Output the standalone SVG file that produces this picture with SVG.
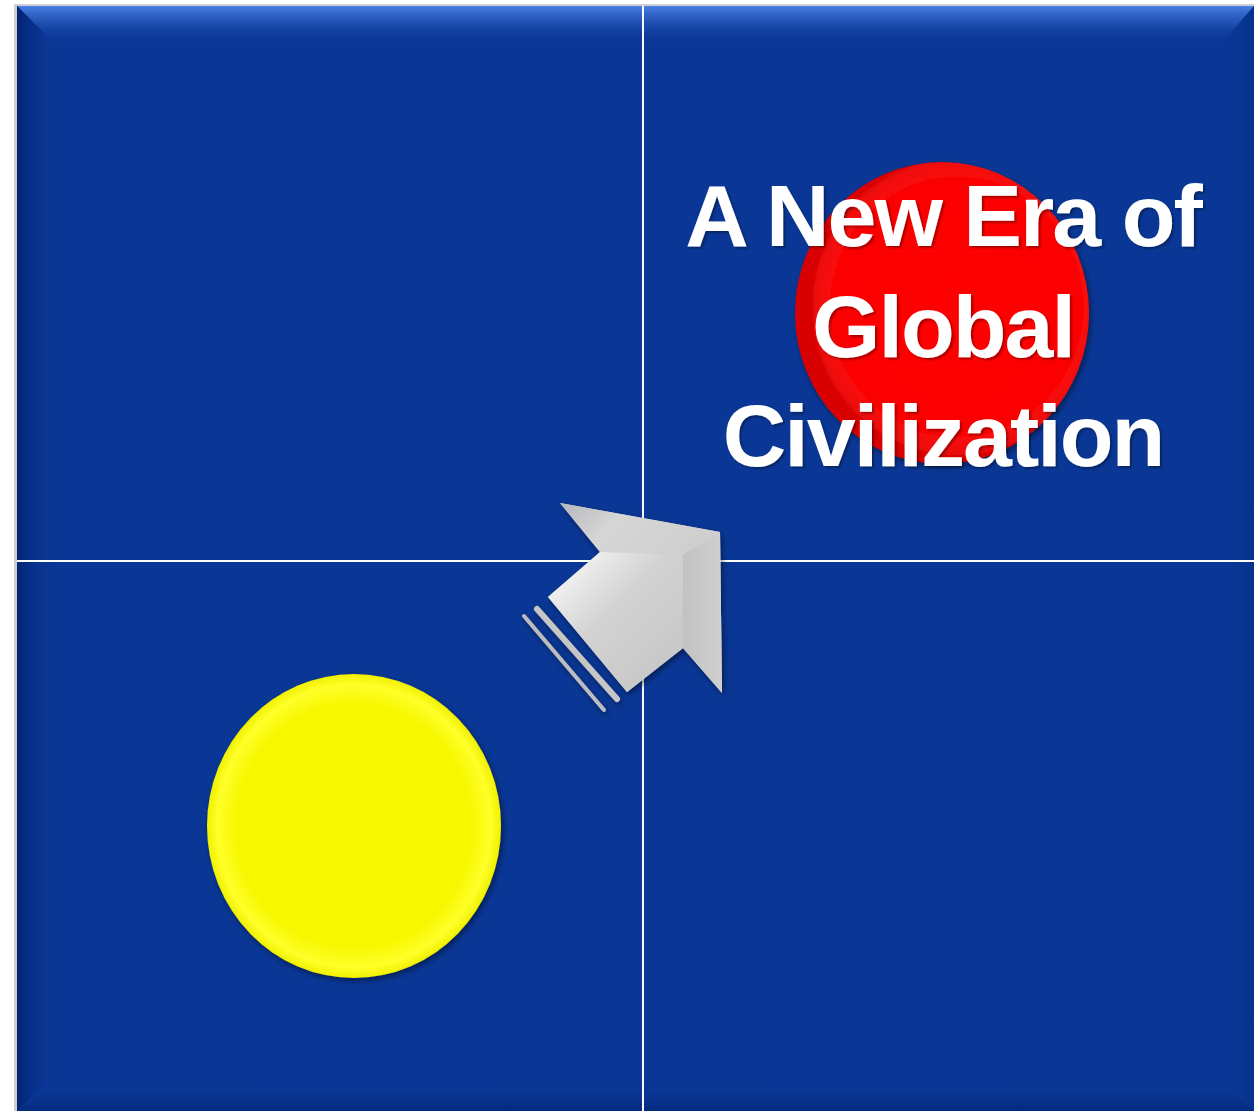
<svg xmlns="http://www.w3.org/2000/svg" width="1254" height="1111" viewBox="0 0 1254 1111">
  <defs>
    <style>
      .grid { stroke: #ffffff; stroke-width: 2; }
      .label { font-family: "Liberation Sans", Arial, sans-serif; font-weight: bold; font-size: 88px; fill: #ffffff; text-anchor: middle; letter-spacing: -2px; }
    </style>
    <linearGradient id="bevTop" x1="0" y1="0" x2="0" y2="1">
      <stop offset="0" stop-color="#4a80e6" stop-opacity="1"/>
      <stop offset="1" stop-color="#0a3796" stop-opacity="0"/>
    </linearGradient>
    <linearGradient id="bevLeft" x1="0" y1="0" x2="1" y2="0">
      <stop offset="0" stop-color="#03226e" stop-opacity="0.9"/>
      <stop offset="1" stop-color="#0a3796" stop-opacity="0"/>
    </linearGradient>
    <linearGradient id="bevBottom" x1="0" y1="1" x2="0" y2="0">
      <stop offset="0" stop-color="#03287a" stop-opacity="0.9"/>
      <stop offset="1" stop-color="#0a3796" stop-opacity="0"/>
    </linearGradient>
    <linearGradient id="bevRight" x1="1" y1="0" x2="0" y2="0">
      <stop offset="0" stop-color="#05308a" stop-opacity="0.8"/>
      <stop offset="1" stop-color="#0a3796" stop-opacity="0"/>
    </linearGradient>
    <radialGradient id="yellowFill" cx="0.5" cy="0.5" r="0.5">
      <stop offset="0" stop-color="#f8f800"/>
      <stop offset="0.8" stop-color="#f7f700"/>
      <stop offset="0.93" stop-color="#ffff2a"/>
      <stop offset="1" stop-color="#f0f000"/>
    </radialGradient>
    <radialGradient id="redFill" cx="0.55" cy="0.48" r="0.5">
      <stop offset="0" stop-color="#ff0606"/>
      <stop offset="0.85" stop-color="#fb0505"/>
      <stop offset="0.95" stop-color="#f01010"/>
      <stop offset="1" stop-color="#d80000"/>
    </radialGradient>
    <linearGradient id="shaftFace" x1="0" y1="0" x2="1" y2="1">
      <stop offset="0" stop-color="#ffffff"/>
      <stop offset="0.45" stop-color="#d2d2d2"/>
      <stop offset="1" stop-color="#c4c4c4"/>
    </linearGradient>
    <linearGradient id="headTop" x1="0" y1="0" x2="1" y2="0.3">
      <stop offset="0" stop-color="#b4b6bc"/>
      <stop offset="0.4" stop-color="#d6d6d6"/>
      <stop offset="1" stop-color="#cfcfcf"/>
    </linearGradient>
    <linearGradient id="headRight" x1="0" y1="0" x2="1" y2="0">
      <stop offset="0" stop-color="#c2c2c2"/>
      <stop offset="1" stop-color="#d0d0d0"/>
    </linearGradient>
    <filter id="shadow" x="-20%" y="-20%" width="140%" height="140%">
      <feDropShadow dx="2" dy="3" stdDeviation="3" flood-color="#000000" flood-opacity="0.45"/>
    </filter>
    <filter id="textShadow" x="-10%" y="-20%" width="120%" height="140%">
      <feDropShadow dx="2" dy="2" stdDeviation="1.2" flood-color="#000000" flood-opacity="0.35"/>
    </filter>
  </defs>

  <rect x="0" y="0" width="1254" height="1111" fill="#ffffff"/>

  <g id="background">
    <rect x="14" y="4" width="1240" height="1107" fill="#9aa0aa" opacity="0.5"/>
    <rect x="17" y="6" width="1237" height="1105" fill="#0a3796"/>
    <polygon points="17,6 1254,6 1220,46 57,46" fill="url(#bevTop)"/>
    <polygon points="17,6 57,46 57,1075 17,1111" fill="url(#bevLeft)"/>
    <polygon points="17,1111 57,1080 1220,1080 1254,1111" fill="url(#bevBottom)"/>
    <polygon points="1254,6 1224,40 1224,1080 1254,1111" fill="url(#bevRight)"/>
  </g>

  <g id="connectors">
    <line class="grid" x1="643" y1="6" x2="643" y2="1111"/>
    <line class="grid" x1="17" y1="561" x2="1254" y2="561"/>
  </g>

  <g id="yellow-circle" filter="url(#shadow)">
    <ellipse cx="354" cy="826" rx="147" ry="152" fill="url(#yellowFill)"/>
  </g>

  <g id="red-circle" filter="url(#shadow)">
    <ellipse cx="942" cy="313" rx="147" ry="151" fill="url(#redFill)"/>
  </g>

  <g id="arrow" filter="url(#shadow)">
    <polygon points="560,503 720,532 722,693 683,648 627,692 548,597 600,552" fill="#c8c8c8"/>
    <polygon points="560,503 720,532 683,555 600,552" fill="url(#headTop)"/>
    <polygon points="720,532 722,693 683,648 683,555" fill="url(#headRight)"/>
    <polygon points="600,552 683,555 683,648 627,692 548,597" fill="url(#shaftFace)"/>
    <line x1="537" y1="609" x2="617" y2="699" stroke="#c6c6c6" stroke-width="6" stroke-linecap="round"/>
    <line x1="524" y1="616" x2="604" y2="710" stroke="#bdbdbd" stroke-width="4" stroke-linecap="round"/>
  </g>

  <g id="title" filter="url(#textShadow)">
    <text class="label" x="943" y="246">A New Era of</text>
    <text class="label" x="943" y="357">Global</text>
    <text class="label" x="943" y="466">Civilization</text>
  </g>
</svg>
